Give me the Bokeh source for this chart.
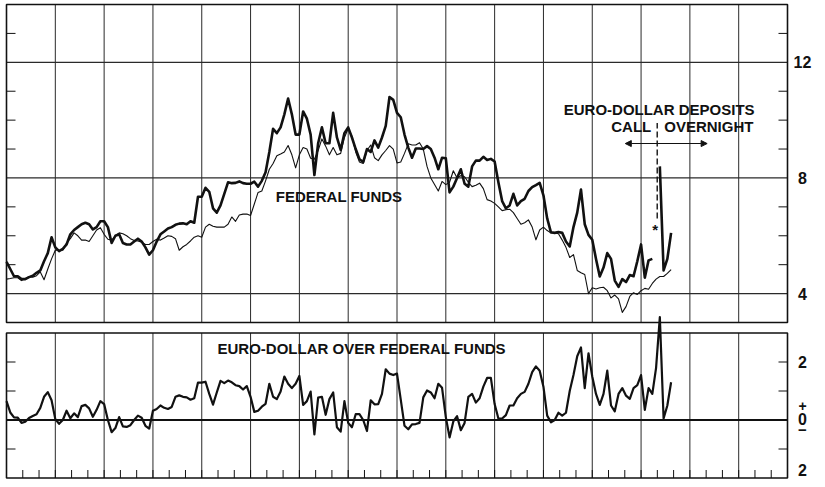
import numpy as np
from bokeh.plotting import figure
from bokeh.models import Range1d, Arrow, NormalHead
from bokeh.core.properties import value
from bokeh.embed import file_html
from bokeh.resources import INLINE

# ---------------- data (weekly observations, per cent) ----------------
# Euro-dollar deposit rate, call money (weeks 0..172)
euro_call = [
    5.1, 4.85, 4.6, 4.6, 4.5, 4.5, 4.57, 4.62, 4.72, 4.8,
    5.12, 5.4, 5.95, 5.6, 5.47, 5.55, 5.7, 6.05, 6.2, 6.3,
    6.4, 6.45, 6.4, 6.22, 6.3, 6.5, 6.5, 6.3, 5.75, 6.0,
    6.05, 5.75, 5.7, 5.7, 5.8, 5.9, 5.8, 5.6, 5.35, 5.5,
    5.8, 6.05, 6.15, 6.25, 6.3, 6.38, 6.42, 6.43, 6.4, 6.5,
    6.45, 7.35, 7.35, 7.66, 7.52, 6.95, 6.8, 7.05, 7.45, 7.85,
    7.82, 7.83, 7.88, 7.82, 7.8, 7.8, 7.87, 7.7, 7.9, 8.2,
    8.9, 9.7, 9.55, 9.75, 10.2, 10.75, 10.2, 9.5, 9.5, 10.3,
    10.05, 9.5, 8.1, 9.2, 9.75, 9.2, 9.2, 10.25, 9.4, 8.97,
    9.55, 9.75, 9.4, 9.0, 8.65, 8.55, 9.0, 8.9, 9.3, 9.05,
    9.4, 9.8, 10.8, 10.7, 10.25, 10.1, 9.5, 9.05, 8.7, 9.02,
    9.02, 9.0, 9.1, 9.0, 8.7, 8.3, 8.7, 8.68, 7.5, 7.7,
    8.0, 8.3, 7.8, 7.7, 8.4, 8.6, 8.6, 8.73, 8.62, 8.66,
    8.57, 7.85, 7.2, 6.95, 7.05, 7.45, 7.05, 7.2, 7.28, 7.55,
    7.68, 7.75, 7.83, 7.4, 6.6, 6.12, 6.1, 6.13, 6.1, 5.8,
    5.63, 6.3, 6.8, 7.6, 6.4, 6.03, 5.86, 5.2, 4.59, 4.9,
    5.4, 5.2, 4.45, 4.23, 4.5, 4.4, 4.64, 4.6, 5.12, 5.7,
    4.55, 5.15, 5.2,
]
# Euro-dollar deposit rate, overnight money (weeks 174..177)
euro_overnight = [8.4, 4.8, 5.2, 6.1]
overnight_start_week = 174

# Federal funds rate (weeks 0..177)
fed_funds = [
    4.5, 4.52, 4.55, 4.55, 4.45, 4.52, 4.58, 4.57, 4.62, 4.75,
    4.48, 4.85, 5.2, 5.5, 5.5, 5.5, 5.75, 5.9, 6.1, 6.0,
    5.85, 5.85, 5.8, 6.0, 6.2, 6.28, 6.05, 5.88, 5.85, 6.0,
    6.1, 6.07, 6.0, 5.9, 5.84, 5.82, 5.78, 5.7, 5.7, 5.8,
    5.88, 5.85, 5.92, 6.0, 5.98, 5.9, 5.5, 5.62, 5.7, 5.82,
    5.95, 6.0, 5.95, 6.3, 6.4, 6.33, 6.3, 6.3, 6.3, 6.4,
    6.65, 6.5, 6.72, 6.75, 6.75, 6.7, 7.1, 7.5, 7.55, 7.9,
    8.3, 8.5, 8.77, 8.83, 8.9, 9.12, 8.8, 8.35, 8.8, 9.05,
    9.0, 8.68, 8.65, 8.95, 9.35, 9.1, 8.8, 9.05, 8.8, 8.85,
    9.4, 9.7, 9.44, 8.9, 8.55, 8.5, 8.95, 9.14, 8.7, 8.6,
    8.8, 8.95, 9.12, 9.0, 8.52, 8.55, 8.85, 9.18, 9.14, 9.14,
    9.22, 9.0, 8.4, 8.0, 7.77, 7.55, 7.88, 7.77, 7.85, 8.25,
    8.0, 8.08, 8.04, 7.85, 7.7, 7.75, 7.82, 7.63, 7.25, 7.2,
    7.12, 7.0, 6.87, 6.9, 6.92, 6.8, 6.6, 6.4, 6.45, 6.55,
    6.3, 5.86, 6.2, 6.3, 6.18, 6.1, 6.1, 6.07, 5.85, 5.6,
    5.25, 5.35, 4.8, 4.72, 4.66, 4.0, 4.2, 4.16, 4.2, 4.22,
    4.1, 3.85, 3.95, 3.82, 3.35, 3.55, 3.9, 4.03, 3.97, 4.1,
    4.18, 4.15, 4.35, 4.5, 4.59, 4.59, 4.7, 4.83,
]

# Euro-dollar rate over federal funds rate (weeks 0..177)
euro_over_fed = [
    0.65, 0.26, 0.09, 0.08, -0.1, -0.06, 0.07, 0.14, 0.2, 0.42,
    0.8, 0.96, 0.68, 0.03, -0.13, 0.0, 0.32, 0.06, 0.23, 0.1,
    0.48, 0.52, 0.4, 0.11, 0.35, 0.65, 0.55, 0.0, -0.42, -0.28,
    0.1, -0.22, -0.24, -0.18, 0.0, 0.15, 0.08, -0.2, -0.3, 0.32,
    0.38, 0.5, 0.42, 0.38, 0.45, 0.8, 0.85, 0.8, 0.78, 0.7,
    0.75, 1.29, 1.29, 1.32, 0.9, 0.53, 0.95, 1.35, 1.27, 1.36,
    1.3, 1.2, 1.17, 1.05, 1.17, 0.8, 0.28, 0.32, 0.46, 0.56,
    1.25, 0.8, 0.72, 0.98, 1.5, 1.25, 1.1, 1.25, 1.52, 0.52,
    0.65, 0.98, -0.5, 0.77, 0.8, 0.18, 0.72, 0.95, -0.25, -0.4,
    0.65, -0.1, -0.25, 0.2, 0.2, 0.0, -0.38, 0.68, 0.54, 0.55,
    0.9, 1.75, 1.6, 1.55, 1.6, 0.7, -0.2, -0.32, -0.15, -0.14,
    -0.1, 0.78, 1.02, 0.95, 0.75, 1.25, 1.11, 0.1, -0.6, -0.05,
    0.13, -0.35, -0.1, 0.8, 0.9, 0.6, 0.75, 1.15, 1.45, 1.45,
    0.55, 0.05, 0.05, 0.17, 0.5, 0.5, 0.75, 0.9, 0.97, 1.25,
    1.65, 1.85, 1.7, 1.15, 0.15, -0.08, 0.0, 0.25, 0.15, 0.25,
    1.0, 1.55, 2.2, 2.5, 1.1, 2.3, 1.5, 0.9, 0.52, 0.9,
    1.7, 0.5, 0.3, 0.9, 1.1, 0.84, 0.73, 1.1, 1.2, 1.55,
    0.35, 1.1, 0.9, 1.8, 3.55, 0.05, 0.5, 1.3,
]

# axis / tick definitions
weeks_per_quarter = 13
n_quarters = 16
months_per_quarter = 3
call_overnight_switch = 173.3      # week at which the series changes
top_limits = (3, 14)
top_major = [4, 8, 12]
top_major_labels = ["4", "8", "12"]
top_minor = [5, 6, 7, 9, 10, 11, 13]
bottom_limits = (-2, 3)
bottom_minor = [-1, 1, 2]
bottom_label_two = ["2", "2"]      # +2 and -2

# ---------------- layout (screen pixels on an 817x479 canvas) ----------------
W, H = 817, 479
FX = (6.0, 787.0)          # left/right border of the panels
TOPY = (4.0, 322.0)        # top panel top/bottom
BOTY = (332.5, 477.5)      # bottom panel top/bottom

total_weeks = weeks_per_quarter * n_quarters
kx = (FX[1] - FX[0]) / total_weeks
k1 = (TOPY[1] - TOPY[0]) / (top_limits[1] - top_limits[0])
k2 = (BOTY[1] - BOTY[0]) / (bottom_limits[1] - bottom_limits[0])

p = figure(
    width=W, height=H,
    x_range=Range1d(-FX[0] / kx, total_weeks + (W - FX[1]) / kx),
    y_range=Range1d(top_limits[0] - (H - TOPY[1]) / k1, top_limits[1] + TOPY[0] / k1),
    x_axis_type=None, y_axis_type=None,
    toolbar_location=None, output_backend="svg", min_border=0,
)
p.extra_y_ranges = {
    "spread": Range1d(bottom_limits[0] - (H - BOTY[1]) / k2, bottom_limits[1] + BOTY[0] / k2)
}
p.outline_line_color = None
p.grid.visible = False
p.background_fill_color = "white"
p.border_fill_color = "white"

INK = "#111111"
GRID = "#2a2a2a"
FONT = value("Liberation Sans")

quarters = np.arange(1, n_quarters) * weeks_per_quarter
months = np.arange(1, n_quarters * months_per_quarter) * (weeks_per_quarter / months_per_quarter)
tick_w = 9 / kx

# ---- top panel frame, grid, ticks ----
p.segment(x0=quarters, x1=quarters, y0=top_limits[0], y1=top_limits[1],
          line_color=GRID, line_width=1)
p.segment(x0=0, x1=total_weeks, y0=top_major, y1=top_major, line_color=GRID, line_width=1.2)
p.segment(x0=0, x1=tick_w, y0=top_minor, y1=top_minor, line_color=INK, line_width=1)
p.segment(x0=total_weeks - tick_w, x1=total_weeks, y0=top_minor, y1=top_minor,
          line_color=INK, line_width=1)
p.quad(left=0, right=total_weeks, bottom=top_limits[0], top=top_limits[1],
       fill_color=None, line_color=INK, line_width=1.6)

# ---- bottom panel frame, grid, ticks ----
p.segment(x0=quarters, x1=quarters, y0=bottom_limits[0], y1=bottom_limits[1],
          line_color=GRID, line_width=1, y_range_name="spread")
p.segment(x0=0, x1=tick_w, y0=bottom_minor, y1=bottom_minor, line_color=INK,
          line_width=1, y_range_name="spread")
p.segment(x0=total_weeks - tick_w, x1=total_weeks, y0=bottom_minor, y1=bottom_minor,
          line_color=INK, line_width=1, y_range_name="spread")
p.segment(x0=months, x1=months, y0=bottom_limits[0], y1=bottom_limits[0] + 8 / k2,
          line_color=INK, line_width=1, y_range_name="spread")
p.segment(x0=0, x1=total_weeks, y0=0, y1=0, line_color=INK, line_width=2,
          y_range_name="spread")
p.quad(left=0, right=total_weeks, bottom=bottom_limits[0], top=bottom_limits[1],
       fill_color=None, line_color=INK, line_width=1.6, y_range_name="spread")

# ---- data lines ----
p.line(np.arange(len(fed_funds)), fed_funds, line_color=INK, line_width=1.1,
       line_join="round")
p.line(np.arange(len(euro_call)), euro_call, line_color=INK, line_width=2.6,
       line_join="round")
p.line(np.arange(len(euro_overnight)) + overnight_start_week, euro_overnight,
       line_color=INK, line_width=2.6, line_join="round")
p.line(np.arange(len(euro_over_fed)), euro_over_fed, line_color=INK, line_width=2.2,
       line_join="round", y_range_name="spread")

# ---- call / overnight marker ----
p.segment(x0=call_overnight_switch, x1=call_overnight_switch, y0=6.6, y1=9.9,
          line_color=INK, line_width=1.4, line_dash="6 3")
for x_end in (call_overnight_switch - 8.5, call_overnight_switch + 13.3):
    p.add_layout(Arrow(end=NormalHead(size=6, fill_color=INK, line_color=INK),
                       x_start=call_overnight_switch, y_start=9.19,
                       x_end=x_end, y_end=9.19, line_color=INK, line_width=1.1))

# ---- texts ----
txt = dict(text_font=FONT, text_font_style="bold", text_color=INK)
p.text(x=[71.7], y=[7.35], text=["FEDERAL FUNDS"], text_align="left",
       text_baseline="middle", text_font_size="15px", **txt)
p.text(x=[148.4], y=[10.38], text=["EURO-DOLLAR DEPOSITS"], text_align="left",
       text_baseline="middle", text_font_size="15px", **txt)
p.text(x=[call_overnight_switch], y=[9.77], text=["CALL"], text_align="right",
       text_baseline="middle", text_font_size="15px", x_offset=-6, **txt)
p.text(x=[call_overnight_switch], y=[9.77], text=["OVERNIGHT"], text_align="left",
       text_baseline="middle", text_font_size="15px", x_offset=7, **txt)
p.text(x=[call_overnight_switch], y=[6.2], text=["*"], text_align="center",
       text_baseline="middle", text_font_size="15px", x_offset=-2, **txt)
p.text(x=[56.2], y=[2.47], text=["EURO-DOLLAR OVER FEDERAL FUNDS"], text_align="left",
       text_baseline="middle", text_font_size="15px", y_range_name="spread", **txt)

label_x = total_weeks + 15 / kx
p.text(x=[label_x] * len(top_major), y=top_major, text=top_major_labels,
       text_align="center", text_baseline="middle", text_font_size="16px", **txt)
p.text(x=[label_x], y=[2], text=[bottom_label_two[0]], text_align="center",
       text_baseline="middle", text_font_size="16px", y_range_name="spread", **txt)
p.text(x=[label_x], y=[bottom_limits[0]], text=[bottom_label_two[1]], text_align="center",
       text_baseline="bottom", text_font_size="16px", y_offset=-2,
       y_range_name="spread", **txt)
p.text(x=[label_x], y=[0], text=["0"], text_align="center", text_baseline="alphabetic",
       text_font_size="16px", y_offset=-1, y_range_name="spread", **txt)
p.text(x=[label_x], y=[0], text=["+"], text_align="center", text_baseline="alphabetic",
       text_font_size="14px", y_offset=-14, y_range_name="spread", **txt)
p.text(x=[label_x], y=[0], text=["\u2212"], text_align="center", text_baseline="middle",
       text_font_size="15px", y_offset=10, y_range_name="spread", **txt)

open("out.html", "w").write(file_html(p, INLINE))
